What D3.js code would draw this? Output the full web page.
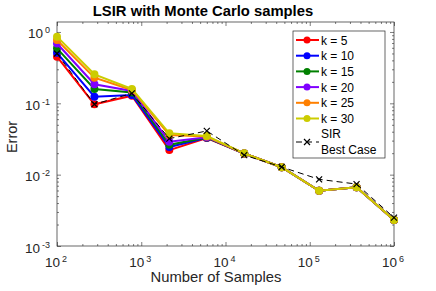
<!DOCTYPE html>
<html>
<head>
<meta charset="UTF-8">
<script src="https://d3js.org/d3.v7.min.js"></script>
<style>
  body { margin: 0; background: #fff; font-family: "Liberation Sans", Arial, sans-serif; }
  .axis path, .axis line { stroke: #262626; }
</style>
</head>
<body>
<div id="chart"></div>
<script>
const samples = [100, 278, 774, 2154, 5995, 16681, 46416, 129155, 359381, 1000000];
const k5  = [0.45, 0.097, 0.128, 0.0221, 0.0327, 0.0198, 0.0127, 0.00594, 0.00664, 0.00231];
const k10 = [0.51, 0.124, 0.131, 0.0244, 0.0330, 0.0198, 0.0127, 0.00594, 0.00664, 0.00231];
const k15 = [0.59, 0.159, 0.142, 0.0262, 0.0332, 0.0198, 0.0127, 0.00594, 0.00664, 0.00231];
const k20 = [0.69, 0.185, 0.149, 0.0290, 0.0335, 0.0198, 0.0127, 0.00594, 0.00664, 0.00231];
const k25 = [0.77, 0.229, 0.154, 0.0360, 0.0343, 0.0198, 0.0127, 0.00594, 0.00664, 0.00231];
const k30 = [0.86, 0.255, 0.159, 0.0380, 0.0348, 0.0199, 0.0127, 0.00594, 0.00664, 0.00231];
const sir = [0.50, 0.097, 0.138, 0.0320, 0.0410, 0.0188, 0.0128, 0.0086, 0.00738, 0.0025];
const seriesNames = ["k = 5", "k = 10", "k = 15", "k = 20", "k = 25", "k = 30"];
const seriesColors = ["#ff0000", "#0000ff", "#008000", "#7f00ff", "#ff8000", "#cccc00"];
const xTicks = [1e2, 1e3, 1e4, 1e5, 1e6];
const yTicks = [1e-3, 1e-2, 1e-1, 1e0];

const W = 436, H = 291;
const pLeft = 57, pRight = 394, pTop = 22, pBottom = 246;

const svg = d3.select("#chart").append("svg")
  .attr("width", W).attr("height", H);

const x = d3.scaleLog().domain([1e2, 1e6]).range([pLeft, pRight]);
const y = d3.scaleLog().domain([1e-3, 1.38]).range([pBottom, pTop]);

// minor tick values
const xMinor = [], yMinor = [];
for (let e = 2; e < 6; e++) for (let m = 2; m <= 9; m++) xMinor.push(m * Math.pow(10, e));
for (let e = -3; e <= 0; e++) for (let m = 2; m <= 9; m++) {
  const v = m * Math.pow(10, e);
  if (v <= 1.38) yMinor.push(v);
}

function tickAxis(axisFn, scale, vals, size, transform) {
  const g = svg.append("g").attr("class", "axis").attr("transform", transform)
    .call(axisFn(scale).tickValues(vals).tickSizeInner(size).tickSizeOuter(0).tickFormat(""));
  g.select(".domain").remove();
  g.selectAll("line").attr("stroke-width", 0.6);
}
tickAxis(d3.axisBottom, x, xTicks, -4, `translate(0,${pBottom})`);
tickAxis(d3.axisBottom, x, xMinor, -2, `translate(0,${pBottom})`);
tickAxis(d3.axisTop, x, xTicks, -4, `translate(0,${pTop})`);
tickAxis(d3.axisTop, x, xMinor, -2, `translate(0,${pTop})`);
tickAxis(d3.axisLeft, y, yTicks, -4, `translate(${pLeft},0)`);
tickAxis(d3.axisLeft, y, yMinor, -2, `translate(${pLeft},0)`);
tickAxis(d3.axisRight, y, yTicks, -4, `translate(${pRight},0)`);
tickAxis(d3.axisRight, y, yMinor, -2, `translate(${pRight},0)`);

svg.append("rect")
  .attr("x", pLeft).attr("y", pTop)
  .attr("width", pRight - pLeft).attr("height", pBottom - pTop)
  .attr("fill", "none").attr("stroke", "#262626").attr("stroke-width", 0.7);

// tick labels with superscripts
xTicks.forEach(v => {
  const t = svg.append("text")
    .attr("x", x(v) - 1).attr("y", pBottom + 21)
    .attr("text-anchor", "middle")
    .style("font-size", "13.5px").attr("fill", "#262626");
  t.append("tspan").text("10");
  t.append("tspan").attr("dx", 2).attr("dy", -5).style("font-size", "9px").text(Math.round(Math.log10(v)));
});
yTicks.forEach(v => {
  const t = svg.append("text")
    .attr("x", pLeft - 7).attr("y", y(v) + 6.5)
    .attr("text-anchor", "end")
    .style("font-size", "13.5px").attr("fill", "#262626");
  t.append("tspan").text("10");
  t.append("tspan").attr("dx", 2).attr("dy", -5).style("font-size", "9px").text(Math.round(Math.log10(v)));
});

svg.append("text")
  .attr("x", 203).attr("y", 16)
  .attr("text-anchor", "middle")
  .style("font-size", "14.8px").style("font-weight", "bold")
  .text("LSIR with Monte Carlo samples");

svg.append("text")
  .attr("x", 216).attr("y", 282)
  .attr("text-anchor", "middle")
  .style("font-size", "14.8px").attr("fill", "#262626")
  .text("Number of Samples");

svg.append("text")
  .attr("transform", "translate(17,137) rotate(-90)")
  .attr("text-anchor", "middle")
  .style("font-size", "14.5px").attr("fill", "#262626")
  .text("Error");

const line = d3.line().x(d => x(d[0])).y(d => y(d[1]));
const allSeries = [k5, k10, k15, k20, k25, k30];

allSeries.forEach((vals, i) => {
  const pts = samples.map((s, j) => [s, vals[j]]);
  svg.append("path").datum(pts)
    .attr("d", line).attr("fill", "none")
    .attr("stroke", seriesColors[i]).attr("stroke-width", 2);
  svg.selectAll(null).data(pts).enter().append("circle")
    .attr("cx", d => x(d[0])).attr("cy", d => y(d[1]))
    .attr("r", 4).attr("fill", seriesColors[i]);
});

const sirPts = samples.map((s, j) => [s, sir[j]]);
svg.append("path").datum(sirPts)
  .attr("d", line).attr("fill", "none")
  .attr("stroke", "#000").attr("stroke-width", 1)
  .attr("stroke-dasharray", "6,4");
svg.selectAll(null).data(sirPts).enter().append("path")
  .attr("transform", d => `translate(${x(d[0])},${y(d[1])})`)
  .attr("d", "M-3,-3L3,3M-3,3L3,-3")
  .attr("stroke", "#000").attr("stroke-width", 1.2);

// legend
const lg = svg.append("g");
lg.append("rect")
  .attr("x", 293).attr("y", 31).attr("width", 92).attr("height", 127)
  .attr("fill", "#fff").attr("stroke", "#262626").attr("stroke-width", 0.7);
seriesNames.forEach((name, i) => {
  const yy = 40 + i * 15.7;
  lg.append("line").attr("x1", 296).attr("x2", 319).attr("y1", yy).attr("y2", yy)
    .attr("stroke", seriesColors[i]).attr("stroke-width", 2);
  lg.append("circle").attr("cx", 307).attr("cy", yy).attr("r", 3.5).attr("fill", seriesColors[i]);
  lg.append("text").attr("x", 321).attr("y", yy + 4.5)
    .style("font-size", "12px").text(name);
});
lg.append("line").attr("x1", 296).attr("x2", 319).attr("y1", 142).attr("y2", 142)
  .attr("stroke", "#000").attr("stroke-width", 1).attr("stroke-dasharray", "6,4");
lg.append("path").attr("transform", "translate(307,142)")
  .attr("d", "M-3,-3L3,3M-3,3L3,-3").attr("stroke", "#000").attr("stroke-width", 1.2);
lg.append("text").attr("x", 321).attr("y", 138).style("font-size", "12px").text("SIR");
lg.append("text").attr("x", 321).attr("y", 154).style("font-size", "12px").text("Best Case");
</script>
</body>
</html>
